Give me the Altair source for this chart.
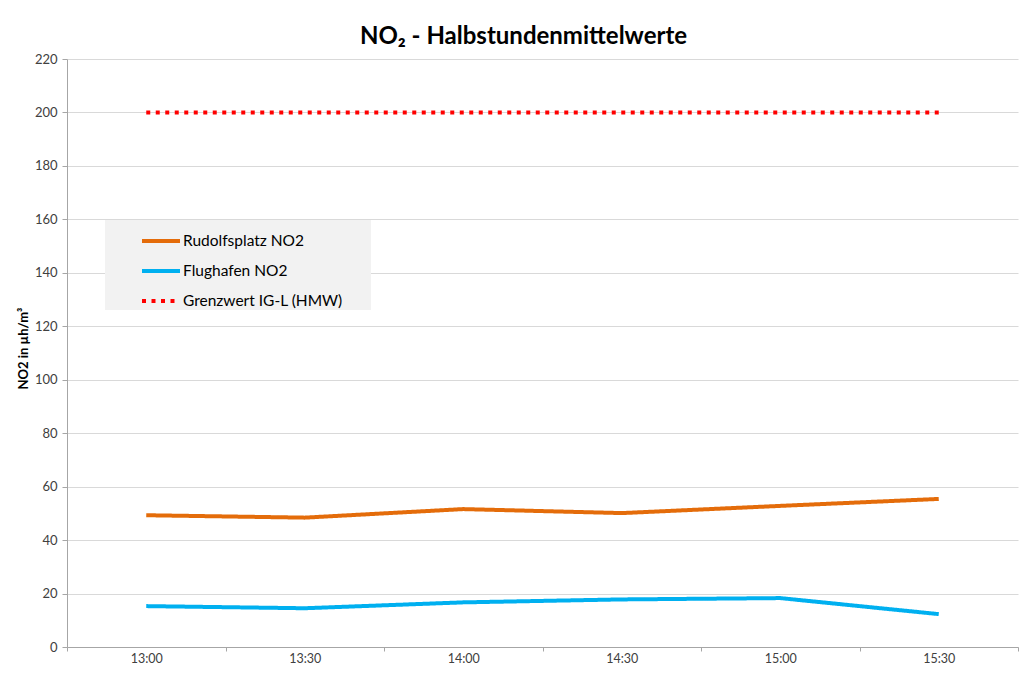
import altair as alt
import pandas as pd

times = ["13:00", "13:30", "14:00", "14:30", "15:00", "15:30"]
series_names = ["Rudolfsplatz NO2", "Flughafen NO2", "Grenzwert IG-L (HMW)"]
rudolfsplatz = [49.3, 48.4, 51.6, 50.1, 52.8, 55.4]
flughafen = [15.3, 14.5, 16.7, 17.8, 18.3, 12.3]
grenzwert = [200, 200, 200, 200, 200, 200]
y_ticks = [0, 20, 40, 60, 80, 100, 120, 140, 160, 180, 200, 220]

colors = ["#E46C0A", "#00B0F0", "#FF0000"]
dashes = [[1, 0], [1, 0], [4, 5.5]]

rows = []
for name, vals in zip(series_names, [rudolfsplatz, flughafen, grenzwert]):
    for t, v in zip(times, vals):
        rows.append({"Zeit": t, "Serie": name, "Wert": v})
df = pd.DataFrame(rows)

FONT = "Lato"
LABEL_EXPR = "datum.label + '" + "\u00a0" + "\u2800" * 2 + "'"

chart = alt.Chart(df).mark_line(strokeWidth=4).encode(
    x=alt.X(
        "Zeit:N", sort=times, bandPosition=0.5,
        scale=alt.Scale(type="band", paddingInner=0, paddingOuter=0),
        axis=alt.Axis(title=None, labelAngle=0, tickBand="extent", grid=False,
                      domainColor="#a6a6a6", tickColor="#a6a6a6", tickSize=4,
                      labelPadding=1, labelFont=FONT, labelFontSize=12.5,
                      labelColor="#404040"),
    ),
    y=alt.Y(
        "Wert:Q", scale=alt.Scale(domain=[0, 220], nice=False),
        axis=alt.Axis(values=y_ticks, title="NO2 in µh/m³", grid=True,
                      gridColor="#d9d9d9", domainColor="#a6a6a6",
                      tickColor="#a6a6a6", tickSize=5, labelPadding=5,
                      labelFont=FONT, labelFontSize=13, labelColor="#404040",
                      titleFont=FONT, titleFontSize=13, titleFontWeight="bold",
                      titleColor="#000000", titleX=-44, titleY=289,
                      titleAngle=270, titleAlign="center",
                      titleBaseline="middle"),
    ),
    color=alt.Color("Serie:N", scale=alt.Scale(domain=series_names, range=colors),
                    legend=alt.Legend(title=None, labelExpr=LABEL_EXPR)),
    strokeDash=alt.StrokeDash("Serie:N", scale=alt.Scale(domain=series_names, range=dashes),
                              legend=alt.Legend(title=None, labelExpr=LABEL_EXPR)),
).properties(
    width=951,
    height=588,
    title=alt.Title("NO₂ - Halbstundenmittelwerte", fontSize=24, font=FONT,
                    fontWeight="bold", color="#000000", dx=-19, offset=4),
    autosize=alt.AutoSizeParams(type="none"),
    padding={"left": 59, "top": 51, "right": 4, "bottom": 20},
).configure_view(
    strokeWidth=0
).configure_legend(
    orient="none", legendX=38, legendY=161, fillColor="#f2f2f2",
    padding=0, rowPadding=0, symbolType="stroke", symbolSize=1444,
    symbolStrokeWidth=4, symbolOffset=35, labelFontSize=15.5, labelFont=FONT,
    labelColor="#000000", labelOffset=1, labelLimit=0,
)

chart.save("out.html", embed_options={"renderer": "svg", "actions": False})
